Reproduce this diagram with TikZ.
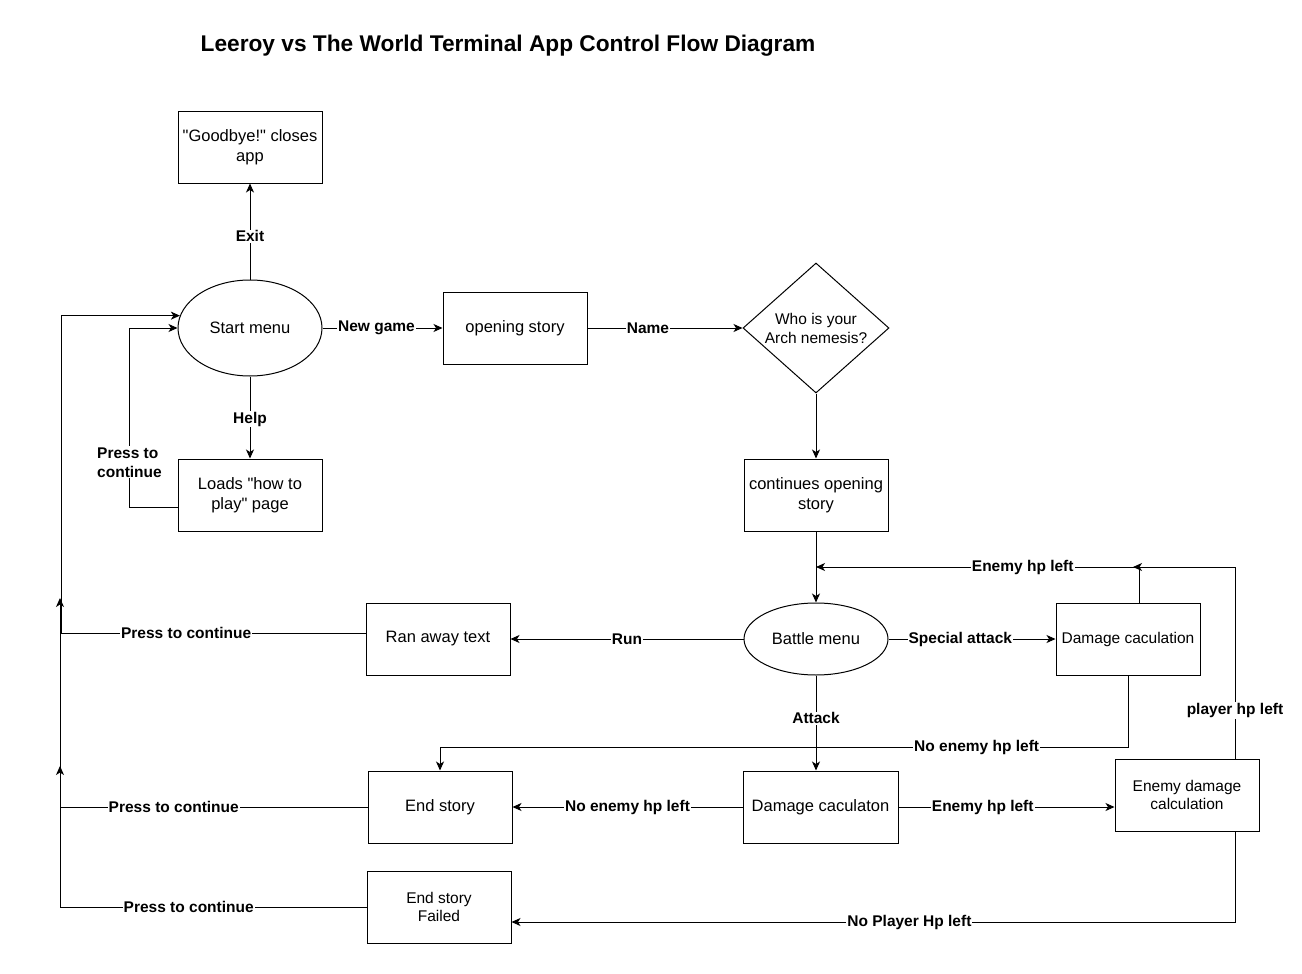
\documentclass[tikz,border=0pt]{standalone}
\usepackage{fontspec}
\newfontfamily\diagfont{Liberation Sans}
\usepackage{tikz}
\usetikzlibrary{arrows.meta, shapes.geometric}
\usetikzlibrary{positioning, calc}
\tikzset{
    proc/.style = {draw=black, line width=1pt, minimum width=144pt, minimum height=72pt,
        inner sep=2pt, align=center, font=\diagfont\fontsize{16.5}{19.5}\selectfont},
    proc_small/.style = {proc, font=\diagfont\fontsize{15.5}{18}\selectfont},
    menu_node/.style = {ellipse, draw=black, line width=1pt, minimum width=144pt,
        inner sep=0pt, font=\diagfont\fontsize{16.5}{19.5}\selectfont},
    choice/.style = {diamond, draw=black, line width=1pt, aspect=1.12, inner sep=0.5pt,
        minimum width=146pt, minimum height=130pt, align=center, font=\diagfont\fontsize{15.5}{19}\selectfont},
    lbl/.style = {fill=white, inner sep=1pt, font=\diagfont\bfseries\fontsize{15.5}{19}\selectfont},
}

\begin{document}
\begin{tikzpicture}[x=1pt, y=-1pt, ->, >={Stealth[length=9pt, width=8pt, inset=2.5pt]}, line width=1pt]
        \useasboundingbox (0,0) rectangle (1302,974);
        \node (title) at (508,46) {\diagfont\bfseries\fontsize{22.7}{27}\selectfont Leeroy vs The World Terminal App Control Flow Diagram};
        \node (start) [menu_node, minimum height=96pt] at (250,328) {Start menu};
        \node (goodbye) [proc, above=96pt of start] {"Goodbye!" closes\\app};
        \node (howto) [proc, below=82pt of start] {Loads "how to\\play" page};
        \node (opening) [proc, right=120pt of start] {opening story};
        \node (nemesis) [choice, right=155pt of opening] {Who is your\\Arch nemesis?};
        \node (contd) [proc, below=65pt of nemesis] {continues opening\\story};
        \node (battle) [menu_node, minimum height=72pt, below=71pt of contd] {Battle menu};
        \node (ranaway) [proc, left=233pt of battle] {Ran away text};
        \node (special_dmg) [proc_small, right=167pt of battle] {Damage caculation};
        \node (dmg) [proc, minimum width=155pt] at (820.5,807) {Damage caculaton};
        \node (end) [proc, left=230pt of dmg] {End story};
        \node (enemy_dmg) [proc_small] at (1187,795) {Enemy damage\\calculation};
        \node (failed) [proc_small] at (439,907) {End story\\Failed};
        \coordinate (join_a) at (60,598);
        \coordinate (join_b) at (60,766);
        \coordinate (merge_a) at (816,567);
        \coordinate (merge_b) at (1133,567);

        \draw (start) -- node[lbl, pos=0.45] {Exit} (goodbye);
        \draw (start) -- node[lbl, pos=0.52] {Help} (howto);
        \draw ([yshift=-12pt]howto.west) -- ++(-48,0) -- node[lbl, pos=0.25, align=left] {Press to\\continue} ++(0,-179) -- (start.west);
        \draw ([yshift=6pt]ranaway.west) -- node[lbl, pos=0.59] {Press to continue} ++(-304,0) |- (start.170);
        \draw (end.west) -- node[lbl, pos=0.63] {Press to continue} (end.west -| join_a) -- (join_a);
        \draw (failed.west) -- node[lbl, pos=0.58] {Press to continue} (failed.west -| join_b) -- (join_b);
        \draw (start) -- node[lbl, pos=0.45] {New game} (opening);
        \draw (opening) -- node[lbl, pos=0.39] {Name} (nemesis);
        \draw (nemesis) -- (contd);
        \draw (contd) -- (battle);
        \draw (battle) -- node[lbl] {Run} (ranaway);
        \draw (battle) -- node[lbl, pos=0.43] {Special attack} (special_dmg);
        \draw ([xshift=11pt]special_dmg.north) |- node[lbl, pos=0.68] {Enemy hp left} (merge_a);
        \draw ([xshift=48pt]enemy_dmg.north) |- node[lbl, pos=0.125] {player hp left} (merge_b);
        \draw (special_dmg.south) -- ++(0,72) -| node[lbl, pos=0.11] {No enemy hp left} (end.north);
        \draw (battle.south) -- node[lbl, pos=0.45] {Attack} (battle.south |- dmg.north);
        \draw (dmg) -- node[lbl] {No enemy hp left} (end);
        \draw (dmg.east) -- node[lbl, pos=0.39] {Enemy hp left} (dmg.east -| enemy_dmg.west);
        \draw ([xshift=48pt]enemy_dmg.south) |- node[lbl, pos=0.725] {No Player Hp left} ([yshift=-15pt]failed.east);
\end{tikzpicture}
\end{document}
